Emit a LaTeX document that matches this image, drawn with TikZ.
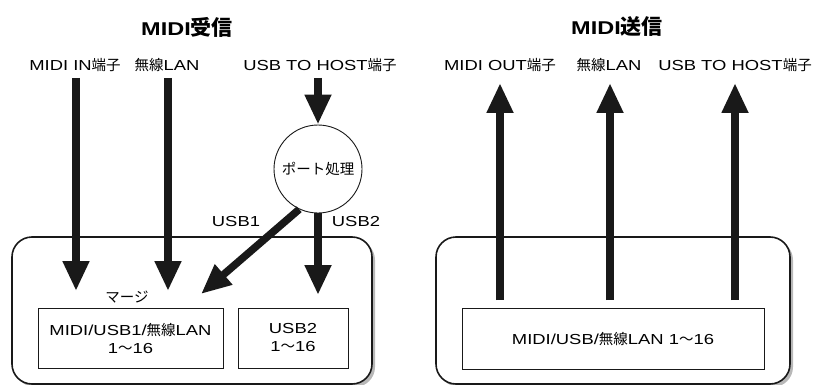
\documentclass[tikz,border=0pt]{standalone}
\usepackage{fontspec}
\setmainfont[FakeStretch=1.27]{Liberation Sans}
\newfontfamily\jp{Noto Sans CJK JP}
\usetikzlibrary{arrows.meta}
\begin{document}
\begin{tikzpicture}[x=1pt,y=-1pt,
  lbl/.style={font=\fontsize{14.5}{16}\selectfont, inner sep=0pt, anchor=center},
  ttl/.style={font=\fontsize{18.5}{22}\selectfont\bfseries, inner sep=0pt},
  bigarrow/.style={line width=7.5pt, draw=black!90, -{Triangle[width=25pt,length=30pt]}},
  panel/.style={draw=black!90, line width=1.6pt, rounded corners=20pt, fill=white},
  shadowbox/.style={fill=black!28, rounded corners=20pt},
  chbox/.style={draw=black!90, line width=0.8pt, fill=white, font=\fontsize{14.5}{18}\selectfont}]
\useasboundingbox (0,0) rectangle (813,385);
% titles
\node[ttl] (t1) at (187,27) {MIDI{\jp\fontsize{21}{22}\selectfont\bfseries 受信}};
\node[ttl] (t2) at (617,27) {MIDI{\jp\fontsize{21}{22}\selectfont\bfseries 送信}};
% left panel
\fill[shadowbox] (15,240) rectangle (375,387);
\draw[panel] (12,237) rectangle (372,384);
\node[chbox, minimum width=185pt, minimum height=60pt, align=center] (b1) at (130.5,338) {MIDI/USB1/{\jp 無線}LAN\\1{\jp 〜}16};
\node[chbox, minimum width=110pt, minimum height=60pt, align=center] (b2) at (293,338) {USB2\\1{\jp 〜}16};
\node[lbl] (merge) at (127,297) {\jp マージ};
% labels
\node[lbl] (l1) at (75,65) {MIDI IN{\jp 端子}};
\node[lbl] (l2) at (167,65) {{\jp 無線}LAN};
\node[lbl] (l3) at (320,65) {USB TO HOST{\jp 端子}};
\node[draw=black!90, line width=0.9pt, circle, minimum size=88pt, inner sep=0pt, fill=white, font=\fontsize{14.5}{16}\selectfont\jp] (pc) at (318,169) {ポート処理};
\coordinate (tip1) at (76,291);
\coordinate (tip2) at (168,291);
\coordinate (tip3) at (201,294);
\coordinate (tip4) at (318,295);
\coordinate (s1) at (76,78);
\coordinate (s2) at (168,78);
\coordinate (s3) at (318,78);
\draw[bigarrow] (s1) -- (tip1);
\draw[bigarrow] (s2) -- (tip2);
\draw[bigarrow] (s3) -- (pc.north);
\draw[bigarrow] (pc.245) -- (tip3);
\draw[bigarrow] (pc.south) -- (tip4);
\node[lbl] (u1) at (236,222) {USB1};
\node[lbl] (u2) at (356,222) {USB2};
% right panel
\fill[shadowbox] (439,240) rectangle (793,387);
\draw[panel] (436,237) rectangle (790,384);
\node[chbox, minimum width=302pt, minimum height=61pt] (b3) at (613,338.5) {MIDI/USB/{\jp 無線}LAN 1{\jp 〜}16};
\node[lbl] (r1) at (500,65) {MIDI OUT{\jp 端子}};
\node[lbl] (r2) at (609,65) {{\jp 無線}LAN};
\node[lbl] (r3) at (735,65) {USB TO HOST{\jp 端子}};
\coordinate (e1) at (500,300);
\coordinate (e2) at (610,300);
\coordinate (e3) at (735,300);
\coordinate (h1) at (500,83);
\coordinate (h2) at (610,83);
\coordinate (h3) at (735,83);
\draw[bigarrow] (e1) -- (h1);
\draw[bigarrow] (e2) -- (h2);
\draw[bigarrow] (e3) -- (h3);
\end{tikzpicture}
\end{document}
